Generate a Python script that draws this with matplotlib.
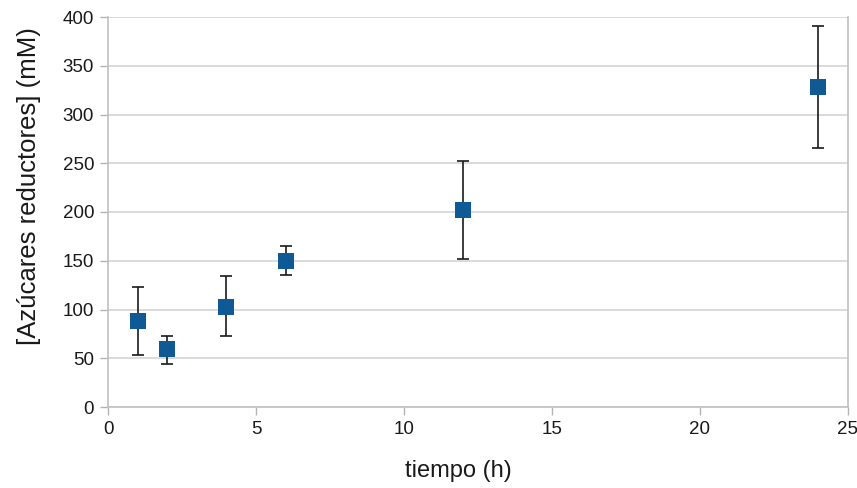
import matplotlib
matplotlib.use("Agg")
import matplotlib.pyplot as plt

# datos
tiempo = [1, 2, 4, 6, 12, 24]
azucares = [88, 59, 103, 150, 202, 328]
err_sup = [123, 73, 134, 165, 252, 391]
err_inf = [53, 44, 73, 135, 152, 266]

x_ticks = [0, 5, 10, 15, 20, 25]
y_ticks = [0, 50, 100, 150, 200, 250, 300, 350, 400]

plt.rcParams['font.family'] = ['Liberation Sans', 'DejaVu Sans']

fig = plt.figure(figsize=(8.57, 4.88), dpi=100)
ax = fig.add_axes([108 / 857, 1 - 407 / 488, 740 / 857, 390 / 488])

yerr = [[a - b for a, b in zip(azucares, err_inf)],
        [c - a for a, c in zip(azucares, err_sup)]]
ax.errorbar(tiempo, azucares, yerr=yerr, fmt='none', ecolor='#1a1a1a',
            elinewidth=1.2, capsize=4, capthick=1.2, zorder=3)
ax.plot(tiempo, azucares, 's', color='#0f5a94', markersize=11.5,
        markeredgewidth=0, zorder=4)

ax.set_xlim(0, 25)
ax.set_ylim(0, 400)
ax.set_xticks(x_ticks)
ax.set_yticks(y_ticks)
ax.tick_params(axis='both', colors='#b3b3b3', labelcolor='#1a1a1a',
               labelsize=13.5, length=6, width=1)
ax.tick_params(axis='y', pad=4)
ax.tick_params(axis='x', pad=4)

ax.grid(axis='y', color='#d4d4d4', linewidth=1.2)
ax.set_axisbelow(True)
for s in ['left', 'bottom', 'right']:
    ax.spines[s].set_color('#c0c0c0')
    ax.spines[s].set_linewidth(1.2)
ax.spines['top'].set_visible(False)

ax.set_xlabel('tiempo (h)', fontsize=17, color='#1a1a1a')
ax.set_ylabel('[Azúcares reductores] (mM)', fontsize=18.5, color='#1a1a1a')
ax.xaxis.set_label_coords(0.473, -0.135)
ax.yaxis.set_label_coords(-0.09, 0.567)

fig.savefig('out.png', dpi=100)
